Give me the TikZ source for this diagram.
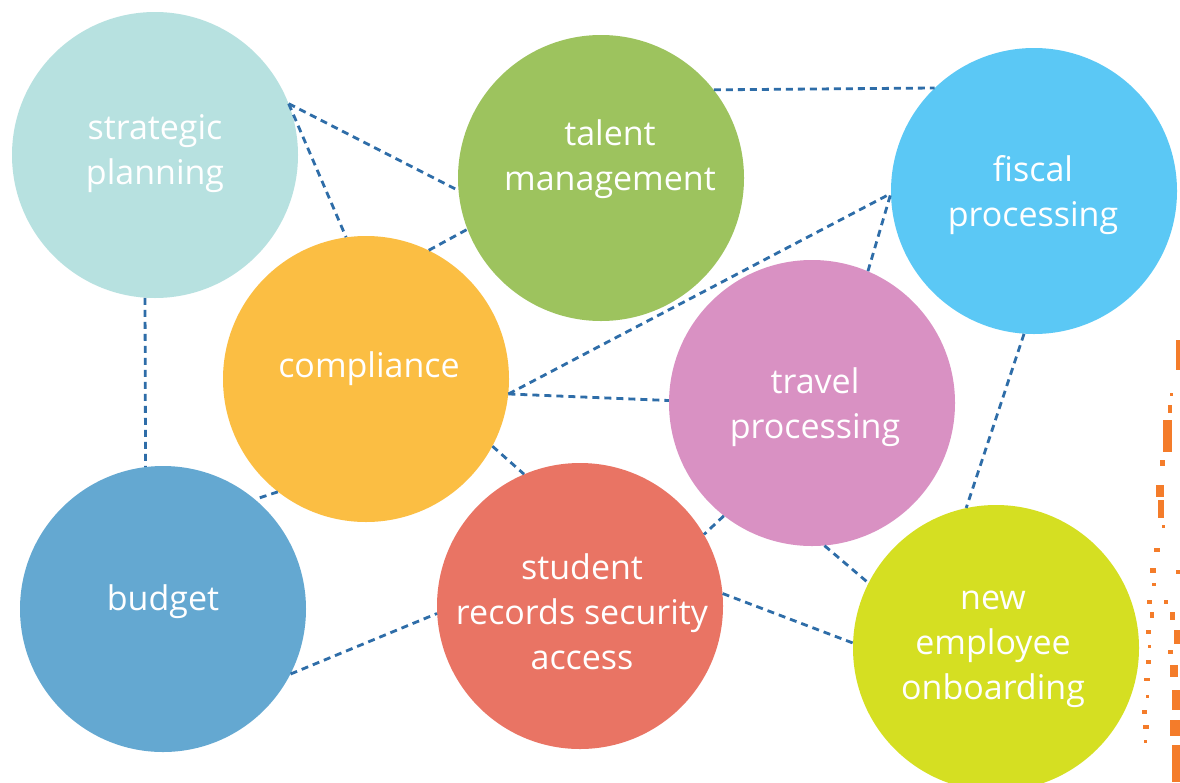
\documentclass[tikz,border=0pt]{standalone}
\usepackage{fontspec}
\setmainfont{Open Sans}
\definecolor{cSP}{HTML}{B7E1E0}
\definecolor{cTM}{HTML}{9DC35E}
\definecolor{cFP}{HTML}{5BC8F5}
\definecolor{cCO}{HTML}{FBBE43}
\definecolor{cTP}{HTML}{D991C3}
\definecolor{cBU}{HTML}{64A8D1}
\definecolor{cSR}{HTML}{E97464}
\definecolor{cNE}{HTML}{D5DF22}
\definecolor{cLine}{HTML}{2E6DA8}
\definecolor{cSpeck}{HTML}{F47C2A}
\tikzset{
  bubble/.style={circle, minimum size=286pt, inner sep=0pt, fill=#1},
  btext/.style={text=white, align=center, font=\fontsize{34}{45}\selectfont},
  link/.style={draw=cLine, line width=2.8pt, dash pattern=on 7pt off 5pt},
  speck/.style={fill=cSpeck, draw=none}
}
\begin{document}
\begin{tikzpicture}[x=1pt,y=-1pt]
\useasboundingbox (0,0) rectangle (1180,782);
\fill[white] (0,0) rectangle (1180,782);
% speckles
\foreach \x/\y/\w/\h in {1176/340/4/30, 1170/393/3/3, 1168/405/4/8, 1163/420/9/32, 1160/460/5/6, 1156/485/8/12, 1158/500/6/18, 1162/525/3/3, 1154/548/6/4, 1150/568/6/5, 1152/583/4/3, 1147/600/5/4, 1150/612/4/6, 1146/630/5/4, 1148/645/3/3, 1146/660/5/4, 1144/678/6/3, 1146/695/3/3, 1142/710/5/4, 1143/725/6/4, 1144/740/3/3, 1164/600/4/4, 1170/612/5/8, 1174/630/6/14, 1168/650/5/4, 1170/665/8/12, 1172/690/8/20, 1170/720/10/16, 1172/745/8/37, 1176/570/4/4}
  \fill[speck] (\x,\y) rectangle ++(\w,\h);
% bubbles
\node[bubble=cSP] (sp) at (155,155) {};
\node[bubble=cTM] (tm) at (601,178) {};
\node[bubble=cFP] (fp) at (1034,191) {};
\node[bubble=cCO] (co) at (366,379) {};
\node[bubble=cTP] (tp) at (812,403) {};
\node[bubble=cBU] (bu) at (163,609) {};
\node[bubble=cSR] (sr) at (580,606) {};
\node[bubble=cNE] (ne) at (996,648) {};
% texts
\node[btext] (tsp) at (155,154) {strategic\\planning};
\node[btext] (ttm) at (610,159) {talent\\management};
\node[btext] (tfp) at (1033,195) {fiscal\\processing};
\node[btext] (tco) at (369,369) {compliance};
\node[btext] (ttp) at (815,407) {travel\\processing};
\node[btext] (tbu) at (163,602) {budget};
\node[btext] (tsr) at (582,612) {student\\records security\\access};
\node[btext] (tne) at (993,649) {new\\employee\\onboarding};
% links
\draw[link] (sp.21) -- (tm.185);
\draw[link] (sp.21) -- (co.98);
\draw[link] (sp.266) -- (bu.97);
\draw[link] (tm.38) -- (fp.134);
\draw[link] (co.64) -- (tm.201);
\draw[link] (co.-6) -- (fp.181);
\draw[link] (co.-6) -- (tp.179);
\draw[link] (co.-28) -- (sr.113);
\draw[link] (co.232) -- (bu.50);
\draw[link] (tp.67) -- (fp.181);
\draw[link] (fp.266) -- (ne.102);
\draw[link] (tp.232) -- (sr.30);
\draw[link] (tp.275) -- (ne.153);
\draw[link] (sr.5) -- (ne.178);
\draw[link] (bu.-27) -- (sr.183);
\end{tikzpicture}
\end{document}
